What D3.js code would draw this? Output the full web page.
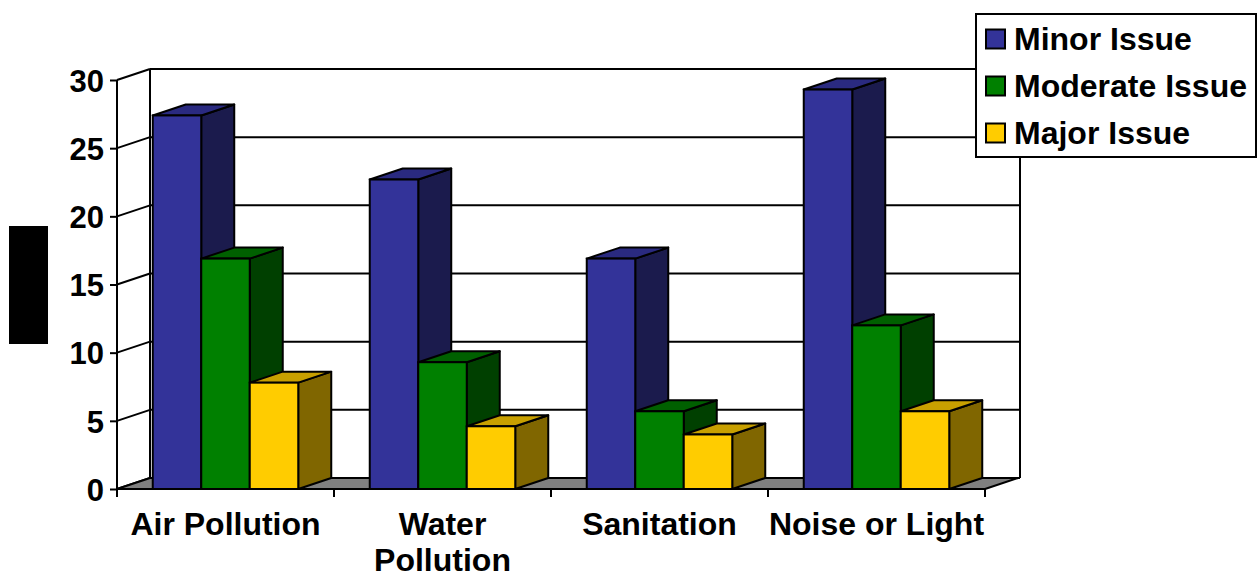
<!DOCTYPE html>
<html><head><meta charset="utf-8">
<script src="https://cdnjs.cloudflare.com/ajax/libs/d3/7.8.5/d3.min.js"></script>
<style>html,body{margin:0;padding:0;background:#fff;}svg{display:block;}</style>
</head><body>
<svg id="c" width="1257" height="579"></svg>
<script>
const categories = ["Air Pollution", "Water Pollution", "Sanitation", "Noise or Light"];
const categoryLines = [["Air Pollution"], ["Water", "Pollution"], ["Sanitation"], ["Noise or Light"]];
const seriesNames = ["Minor Issue", "Moderate Issue", "Major Issue"];
const minorValues = [27.4, 22.7, 16.9, 29.3];
const moderateValues = [16.9, 9.3, 5.7, 12.0];
const majorValues = [7.8, 4.6, 4.0, 5.7];
const yTicks = [0, 5, 10, 15, 20, 25, 30];

const seriesValues = [minorValues, moderateValues, majorValues];
const faceColors = [
  {front:"#333399", side:"#1b1b4d", top:"#2a2a80"},
  {front:"#008000", side:"#004000", top:"#006000"},
  {front:"#ffcc00", side:"#806600", top:"#c8a000"}
];

const svg = d3.select("#c");
const fontFam = "Liberation Sans, Arial, Helvetica, sans-serif";
const left = 117, right = 985, bottom = 489, topY = 80;
const dx = 33, dy = -11;

const y = d3.scaleLinear().domain([0, 30]).range([bottom, topY]);
const x0 = d3.scaleBand().domain(categories).range([left, right]).padding(0);
const x1 = d3.scaleBand().domain(seriesNames).range([0, x0.bandwidth()]).paddingInner(0).paddingOuter(0.737);

const g = svg.append("g");
yTicks.forEach(t => {
  g.append("line").attr("x1", left + dx).attr("x2", right + dx + 2)
    .attr("y1", y(t) + dy).attr("y2", y(t) + dy)
    .attr("stroke", "#000").attr("stroke-width", 2);
  g.append("line").attr("x1", left).attr("y1", y(t))
    .attr("x2", left + dx).attr("y2", y(t) + dy)
    .attr("stroke", "#000").attr("stroke-width", 2);
});
g.append("line").attr("x1", left + dx).attr("x2", left + dx).attr("y1", y(30) + dy).attr("y2", y(0) + dy)
  .attr("stroke", "#000").attr("stroke-width", 2);
g.append("line").attr("x1", right + dx + 2).attr("x2", right + dx + 2).attr("y1", y(30) + dy).attr("y2", y(0) + dy)
  .attr("stroke", "#000").attr("stroke-width", 2);

g.append("path")
  .attr("d", `M${left},${y(0)} L${right},${y(0)} L${right + dx},${y(0) + dy} L${left + dx},${y(0) + dy} Z`)
  .attr("fill", "#808080").attr("stroke", "#000").attr("stroke-width", 2).attr("stroke-linejoin", "round");

g.append("line").attr("x1", left).attr("x2", left).attr("y1", y(30)).attr("y2", y(0))
  .attr("stroke", "#000").attr("stroke-width", 2);

const yAxis = d3.axisLeft(y).tickValues(yTicks).tickSize(7).tickPadding(6).tickFormat(d3.format("d"));
const ya = svg.append("g").attr("transform", `translate(${left},0)`).call(yAxis);
ya.select(".domain").remove();
ya.selectAll(".tick line").attr("stroke", "#000").attr("stroke-width", 2);
ya.selectAll(".tick text").attr("font-family", fontFam).attr("font-weight", "bold")
  .attr("font-size", 31).attr("fill", "#000").attr("dy", "0.36em");

const bars = svg.append("g");
categories.forEach((c, ci) => {
  seriesNames.forEach((s, si) => {
    const v = seriesValues[si][ci];
    const bx = x0(c) + x1(s);
    const bw = x1.bandwidth();
    const yt = y(v), yb = y(0);
    const col = faceColors[si];
    bars.append("path")
      .attr("d", `M${bx + bw},${yb} L${bx + bw + dx},${yb + dy} L${bx + bw + dx},${yt + dy} L${bx + bw},${yt} Z`)
      .attr("fill", col.side).attr("stroke", "#000").attr("stroke-width", 2).attr("stroke-linejoin", "round");
    bars.append("path")
      .attr("d", `M${bx},${yt} L${bx + dx},${yt + dy} L${bx + bw + dx},${yt + dy} L${bx + bw},${yt} Z`)
      .attr("fill", col.top).attr("stroke", "#000").attr("stroke-width", 2).attr("stroke-linejoin", "round");
    bars.append("rect").attr("x", bx).attr("y", yt).attr("width", bw).attr("height", yb - yt)
      .attr("fill", col.front).attr("stroke", "#000").attr("stroke-width", 2);
  });
});

svg.append("line").attr("x1", left).attr("x2", right).attr("y1", y(0)).attr("y2", y(0))
  .attr("stroke", "#000").attr("stroke-width", 2);
const bounds = categories.map(c => x0(c)).concat([right]);
bounds.forEach(bx => {
  svg.append("line").attr("x1", bx).attr("x2", bx).attr("y1", y(0)).attr("y2", y(0) + 8)
    .attr("stroke", "#000").attr("stroke-width", 2);
});
categories.forEach((c, ci) => {
  const t = svg.append("text").attr("x", x0(c) + x0.bandwidth() / 2).attr("y", 535)
    .attr("text-anchor", "middle").attr("font-family", fontFam).attr("font-weight", "bold")
    .attr("font-size", 32).attr("fill", "#000");
  categoryLines[ci].forEach((ln, li) => {
    t.append("tspan").attr("x", x0(c) + x0.bandwidth() / 2).attr("dy", li === 0 ? 0 : 36).text(ln);
  });
});

svg.append("rect").attr("x", 9).attr("y", 226).attr("width", 39).attr("height", 118).attr("fill", "#000");

const lg = svg.append("g");
lg.append("rect").attr("x", 976).attr("y", 14).attr("width", 280).attr("height", 143)
  .attr("fill", "#fff").attr("stroke", "#000").attr("stroke-width", 2);
seriesNames.forEach((s, si) => {
  const cy = 39 + si * 47;
  lg.append("rect").attr("x", 986).attr("y", cy - 9.5).attr("width", 19).attr("height", 19)
    .attr("fill", faceColors[si].front).attr("stroke", "#000").attr("stroke-width", 2);
  lg.append("text").attr("x", 1014).attr("y", cy + 10.5).attr("font-family", fontFam)
    .attr("font-weight", "bold").attr("font-size", 32).attr("fill", "#000").text(s);
});
</script>
</body></html>
